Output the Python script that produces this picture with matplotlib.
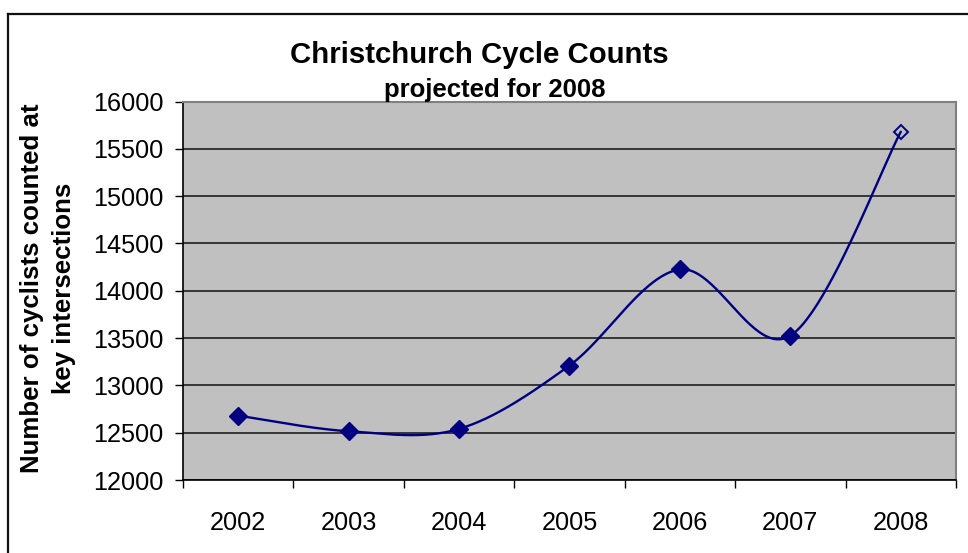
import numpy as np
import matplotlib
matplotlib.use('Agg')
import matplotlib.pyplot as plt
from matplotlib.lines import Line2D
from matplotlib.ticker import FixedLocator, NullFormatter

plt.rcParams['font.family'] = ['Liberation Sans', 'DejaVu Sans']

# ---- data ----
years = ['2002', '2003', '2004', '2005', '2006', '2007', '2008']
counts = [12680, 12515, 12540, 13210, 14225, 13525, 15680]
projected = [False, False, False, False, False, False, True]
y_ticks = [12000, 12500, 13000, 13500, 14000, 14500, 15000, 15500, 16000]

title = 'Christchurch Cycle Counts'
subtitle = 'projected for 2008'
ylabel_lines = ['Number of cyclists counted at', 'key intersections']

W, H = 968, 553
fig = plt.figure(figsize=(W / 100, H / 100), dpi=100)

pl, pr, pt, pb = 183, 956, 101.5, 480
ax = fig.add_axes([pl / W, 1 - pb / H, (pr - pl) / W, (pb - pt) / H])
ax.set_facecolor('#C0C0C0')

x = np.arange(len(years))
ax.set_xlim(-0.5, len(years) - 0.5)
ax.set_ylim(y_ticks[0], y_ticks[-1])


def smooth(xs, ys, n=50):
    pts = np.column_stack([xs, ys]).astype(float)
    ext = np.vstack([pts[0], pts, pts[-1]])
    out = []
    for i in range(len(pts) - 1):
        p0, p1, p2, p3 = ext[i], ext[i + 1], ext[i + 2], ext[i + 3]
        c1 = p1 + (p2 - p0) / 6.0
        c2 = p2 - (p3 - p1) / 6.0
        t = np.linspace(0, 1, n)[:, None]
        seg = (1 - t) ** 3 * p1 + 3 * (1 - t) ** 2 * t * c1 + 3 * (1 - t) * t ** 2 * c2 + t ** 3 * p2
        out.append(seg if i == 0 else seg[1:])
    return np.vstack(out)


curve = smooth(x, counts)
navy = '#000080'
ax.plot(curve[:, 0], curve[:, 1], color=navy, lw=1.7, zorder=3, solid_capstyle='round')

cnt = np.array(counts)
proj = np.array(projected)
ax.plot(x[~proj], cnt[~proj], linestyle='none', marker='D', markersize=9,
        markerfacecolor=navy, markeredgecolor=navy, zorder=4)
ax.plot(x[proj], cnt[proj], linestyle='none', marker='D', markersize=7.5,
        markerfacecolor='none', markeredgecolor=navy, markeredgewidth=1.4, zorder=4)

# grid
ax.set_yticks(y_ticks)
ax.yaxis.grid(True, color='#111111', lw=1.1)
ax.set_axisbelow(True)

# x ticks: boundaries as major (no labels), centers as minor with labels
ax.xaxis.set_major_locator(FixedLocator(np.arange(-0.5, len(years), 1.0)))
ax.xaxis.set_major_formatter(NullFormatter())
ax.set_xticks(x, minor=True)
ax.set_xticklabels(years, minor=True, fontsize=18.2)
ax.tick_params(axis='x', which='major', direction='out', length=5.5, width=1, color='black')
ax.tick_params(axis='x', which='minor', length=0, pad=22)
ax.tick_params(axis='y', direction='out', length=5.5, width=1, labelsize=18.2, pad=8.5)

for s in ['left', 'bottom']:
    ax.spines[s].set_color('black')
    ax.spines[s].set_linewidth(1.2)
for s in ['top', 'right']:
    ax.spines[s].set_color('#808080')
    ax.spines[s].set_linewidth(1.5)

# titles
fig.text(479 / W, 1 - 55 / H, title, ha='center', va='center', fontsize=21.2, fontweight='bold')
fig.text(495 / W, 1 - 90 / H, subtitle, ha='center', va='center', fontsize=18.5, fontweight='bold')

# y label
ymid = 1 - 288 / H
fig.text(32 / W, ymid, ylabel_lines[0], rotation=90, ha='center', va='center',
         fontsize=18.6, fontweight='bold')
fig.text(64 / W, ymid, ylabel_lines[1], rotation=90, ha='center', va='center',
         fontsize=18.6, fontweight='bold')

# outer chart border (top and left visible)
fig.add_artist(Line2D([8 / W, 1.0], [1 - 13.5 / H, 1 - 13.5 / H], color='#111111', lw=1.6,
                      transform=fig.transFigure))
fig.add_artist(Line2D([8 / W, 8 / W], [1 - 13.5 / H, 0.0], color='#111111', lw=1.6,
                      transform=fig.transFigure))

fig.savefig('out.png', dpi=100)
